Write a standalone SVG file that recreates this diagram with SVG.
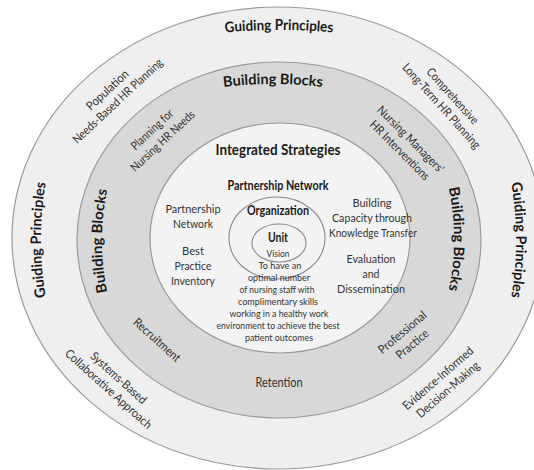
<svg xmlns="http://www.w3.org/2000/svg" width="534" height="470" viewBox="0 0 534 470">
<style>
  .ring { stroke: #9a9a9a; stroke-width: 1.2; }
  .inner { fill: none; stroke: #8a8a8a; stroke-width: 1.1; }
  .big { font-family: Lato, "Open Sans", "Liberation Sans", sans-serif; font-weight: bold; font-size: 14.5px; fill: #1a1a1a; }
  .mid { font-family: Lato, "Open Sans", "Liberation Sans", sans-serif; font-weight: bold; font-size: 12.5px; fill: #1a1a1a; text-anchor: middle; }
  .lab { font-family: Lato, "Open Sans", "Liberation Sans", sans-serif; font-size: 12px; fill: #333333; text-anchor: middle; }
  .col { font-family: Lato, "Open Sans", "Liberation Sans", sans-serif; font-size: 12px; fill: #333333; text-anchor: middle; }
  .vis { font-family: Lato, "Open Sans", "Liberation Sans", sans-serif; font-size: 9.5px; fill: #333333; text-anchor: middle; }
</style>
<defs>
  <path id="pTopGP" d="M 199.24 35.33 A 600 600 0 0 1 358.76 35.33"/>
  <path id="pLeftGP" d="M 50.1 319.3 A 350 350 0 0 1 50.1 160.7"/>
  <path id="pRightGP" d="M 506.9 160.7 A 350 350 0 0 1 506.9 319.3"/>
  <path id="pTopBB" d="M 193.5 92 A 400 400 0 0 1 352.5 92"/>
  <path id="pLeftBB" d="M 114.7 319.6 A 250 250 0 0 1 114.7 162.4"/>
  <path id="pRightBB" d="M 441.3 160.4 A 250 250 0 0 1 441.3 317.6"/>
</defs>
<rect width="534" height="470" fill="#ffffff"/>

<g id="guiding-principles">
  <ellipse class="ring" cx="278" cy="238" rx="266" ry="231" fill="#efefef"/>
  <text class="big"><textPath href="#pTopGP" startOffset="50%" text-anchor="middle" textLength="108" lengthAdjust="spacingAndGlyphs">Guiding Principles</textPath></text>
  <text class="big"><textPath href="#pLeftGP" startOffset="50%" text-anchor="middle" textLength="115" lengthAdjust="spacingAndGlyphs">Guiding Principles</textPath></text>
  <text class="big"><textPath href="#pRightGP" startOffset="50%" text-anchor="middle" textLength="115" lengthAdjust="spacingAndGlyphs">Guiding Principles</textPath></text>
  <g transform="translate(112.5,95.5) rotate(-43)">
    <text class="lab" x="0" y="-3.5" textLength="53" lengthAdjust="spacingAndGlyphs">Population</text>
    <text class="lab" x="0" y="11.5" textLength="118" lengthAdjust="spacingAndGlyphs">Needs-Based HR Planning</text>
  </g>
  <g transform="translate(447,101) rotate(48)">
    <text class="lab" x="0" y="-3.5" textLength="71" lengthAdjust="spacingAndGlyphs">Comprehensive</text>
    <text class="lab" x="0" y="11.5" textLength="110" lengthAdjust="spacingAndGlyphs">Long-Term HR Planning</text>
  </g>
  <g transform="translate(113.5,383.5) rotate(42)">
    <text class="lab" x="0" y="-3.5" textLength="71" lengthAdjust="spacingAndGlyphs">Systems-Based</text>
    <text class="lab" x="0" y="11.5" textLength="112" lengthAdjust="spacingAndGlyphs">Collaborative Approach</text>
  </g>
  <g transform="translate(443,384) rotate(-41)">
    <text class="lab" x="0" y="-3.5" textLength="89" lengthAdjust="spacingAndGlyphs">Evidence-Informed</text>
    <text class="lab" x="0" y="11.5" textLength="79" lengthAdjust="spacingAndGlyphs">Decision-Making</text>
  </g>
</g>

<g id="building-blocks">
  <ellipse class="ring" cx="279" cy="240" rx="202" ry="178" fill="#d8d8d8"/>
  <text class="big"><textPath href="#pTopBB" startOffset="50%" text-anchor="middle" textLength="99" lengthAdjust="spacingAndGlyphs">Building Blocks</textPath></text>
  <text class="big"><textPath href="#pLeftBB" startOffset="50%" text-anchor="middle" textLength="103" lengthAdjust="spacingAndGlyphs">Building Blocks</textPath></text>
  <text class="big"><textPath href="#pRightBB" startOffset="50%" text-anchor="middle" textLength="103" lengthAdjust="spacingAndGlyphs">Building Blocks</textPath></text>
  <g transform="translate(157.5,135.5) rotate(-43)">
    <text class="lab" x="0" y="-4" textLength="53" lengthAdjust="spacingAndGlyphs">Planning for</text>
    <text class="lab" x="0" y="11.5" textLength="83" lengthAdjust="spacingAndGlyphs">Nursing HR Needs</text>
  </g>
  <g transform="translate(405,145) rotate(45)">
    <text class="lab" x="0" y="-4" textLength="89" lengthAdjust="spacingAndGlyphs">Nursing Managers'</text>
    <text class="lab" x="0" y="11.5" textLength="79" lengthAdjust="spacingAndGlyphs">HR Interventions</text>
  </g>
  <g transform="translate(157,340) rotate(42)">
    <text class="lab" x="0" y="4" textLength="59" lengthAdjust="spacingAndGlyphs">Recruitment</text>
  </g>
  <g transform="translate(407.5,338.5) rotate(-40)">
    <text class="lab" x="0" y="-4" textLength="59" lengthAdjust="spacingAndGlyphs">Professional</text>
    <text class="lab" x="0" y="11.5" textLength="39" lengthAdjust="spacingAndGlyphs">Practice</text>
  </g>
  <text class="lab" x="279" y="387" style="font-size:12.5px" textLength="47" lengthAdjust="spacingAndGlyphs">Retention</text>
</g>

<g id="integrated-strategies">
  <ellipse class="ring" cx="280" cy="238" rx="130" ry="115" fill="#f3f3f3"/>
  <text class="mid" x="278" y="155" style="font-size:14.5px" textLength="125" lengthAdjust="spacingAndGlyphs">Integrated Strategies</text>
  <text class="mid" x="278" y="190" textLength="101" lengthAdjust="spacingAndGlyphs">Partnership Network</text>
  <text class="col" x="193" y="213" textLength="55" lengthAdjust="spacingAndGlyphs">Partnership</text>
  <text class="col" x="193" y="228" textLength="40" lengthAdjust="spacingAndGlyphs">Network</text>
  <text class="col" x="193" y="255" textLength="22" lengthAdjust="spacingAndGlyphs">Best</text>
  <text class="col" x="193" y="269.5" textLength="37" lengthAdjust="spacingAndGlyphs">Practice</text>
  <text class="col" x="193" y="284.5" textLength="44" lengthAdjust="spacingAndGlyphs">Inventory</text>
  <text class="col" x="372" y="207" textLength="39" lengthAdjust="spacingAndGlyphs">Building</text>
  <text class="col" x="372" y="222" textLength="80" lengthAdjust="spacingAndGlyphs">Capacity through</text>
  <text class="col" x="373" y="237" textLength="88" lengthAdjust="spacingAndGlyphs">Knowledge Transfer</text>
  <text class="col" x="371" y="263" textLength="49" lengthAdjust="spacingAndGlyphs">Evaluation</text>
  <text class="col" x="371" y="278" textLength="17" lengthAdjust="spacingAndGlyphs">and</text>
  <text class="col" x="371" y="293" textLength="68" lengthAdjust="spacingAndGlyphs">Dissemination</text>
</g>

<g id="organization">
  <ellipse class="inner" cx="277" cy="238" rx="48" ry="41"/>
  <text class="mid" x="278" y="215" textLength="62" lengthAdjust="spacingAndGlyphs">Organization</text>
</g>

<g id="unit">
  <ellipse class="inner" cx="279" cy="243" rx="27" ry="19"/>
  <text class="mid" x="278" y="242" textLength="20" lengthAdjust="spacingAndGlyphs">Unit</text>
</g>

<g id="vision">
  <text class="vis" x="278" y="257" textLength="23" lengthAdjust="spacingAndGlyphs">Vision</text>
  <text class="vis" x="280" y="268.5" textLength="43" lengthAdjust="spacingAndGlyphs">To have an</text>
  <text class="vis" x="279" y="280.5" textLength="62" lengthAdjust="spacingAndGlyphs">optimal number</text>
  <text class="vis" x="277" y="292.5" textLength="75" lengthAdjust="spacingAndGlyphs">of nursing staff with</text>
  <text class="vis" x="278" y="304.5" textLength="80" lengthAdjust="spacingAndGlyphs">complimentary skills</text>
  <text class="vis" x="279" y="317" textLength="99" lengthAdjust="spacingAndGlyphs">working in a healthy work</text>
  <text class="vis" x="278" y="329" textLength="123" lengthAdjust="spacingAndGlyphs">environment to achieve the best</text>
  <text class="vis" x="279" y="341" textLength="68" lengthAdjust="spacingAndGlyphs">patient outcomes</text>
</g>
</svg>
